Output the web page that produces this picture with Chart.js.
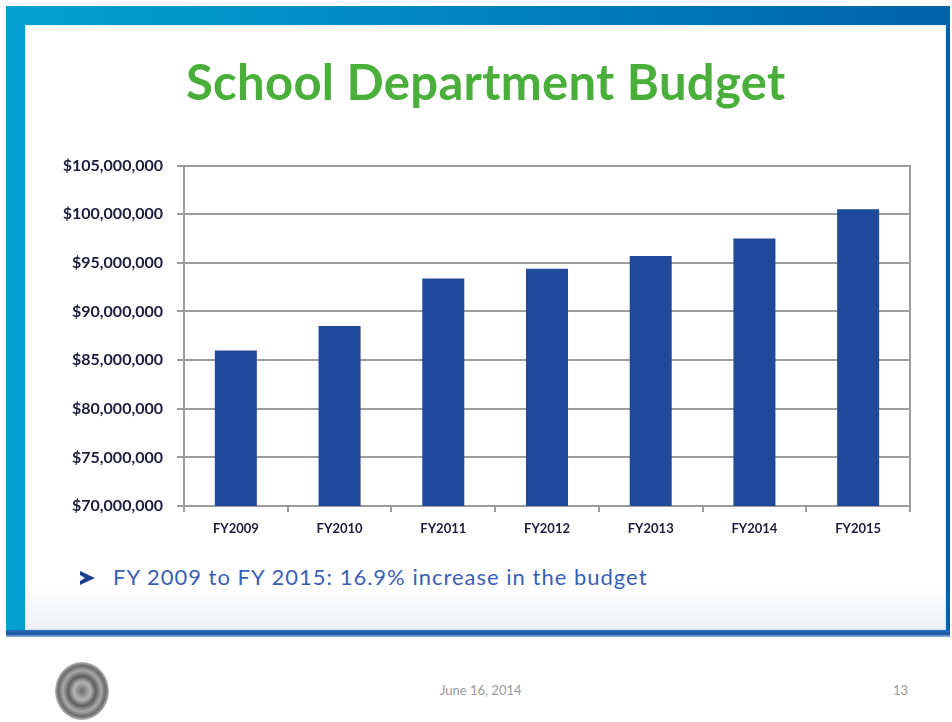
<!DOCTYPE html>
<html>
<head>
<meta charset="utf-8">
<title>School Department Budget</title>
<script src="https://cdn.jsdelivr.net/npm/chart.js@4.4.1/dist/chart.umd.min.js"></script>
<style>
  html, body { margin: 0; padding: 0; background: #fff; }
  body { width: 952px; height: 722px; position: relative; overflow: hidden; font-family: Lato, "Open Sans", sans-serif; }
  .frame {
    position: absolute; left: 6px; top: 6px; width: 944px; height: 631px;
    background: linear-gradient(90deg, #02a1d1 0%, #0187c2 45%, #0063a9 100%);
  }
  .frame-bottom {
    position: absolute; left: 6px; top: 630px; width: 944px; height: 7px;
    background: linear-gradient(180deg, #2a6cb8 0%, #1b56a3 60%, #9ec3e6 100%);
  }
  .inner {
    position: absolute; left: 25px; top: 25px; width: 921px; height: 605px;
    background: linear-gradient(180deg, #ffffff 0%, #ffffff 93%, #eceff4 100%);
    box-shadow: inset 0 0 2px rgba(120,170,210,0.6);
  }
  .title {
    position: absolute; left: 186px; top: 52px; white-space: nowrap;
    font-family: Lato, sans-serif; font-weight: bold; font-size: 49px; color: #4aae3a;
    letter-spacing: 0.3px;
  }
  #chartBox { position: absolute; left: 40px; top: 142px; width: 885px; height: 403px; }
  .bullet {
    position: absolute; left: 113px; top: 563px; font-size: 22px; color: #3a5fb5;
    font-family: Lato, sans-serif; white-space: nowrap; letter-spacing: 1px;
  }
  /* flecha de viñeta */
  .arrow {
    position: absolute; left: 80px; top: 571px; width: 0; height: 0;
    border-top: 7px solid transparent; border-bottom: 7px solid transparent;
    border-left: 15px solid #1b3f8f;
  }
  .arrow-notch {
    position: absolute; left: 80px; top: 575px; width: 0; height: 0;
    border-top: 3px solid transparent; border-bottom: 3px solid transparent;
    border-left: 5px solid #ffffff;
  }
  .footer { position: absolute; top: 682px; font-size: 13px; color: #9a9a9a; font-family: Lato, sans-serif; }
  .seal {
    position: absolute; left: 55px; top: 662px; width: 54px; height: 58px; border-radius: 50%;
    background: radial-gradient(ellipse at center, #6c6c6c 0%, #b4b4b4 22%, #5e5e5e 36%, #a8a8a8 50%, #6a6a6a 62%, #c4c4c4 72%, #4e4e4e 82%, #8a8a8a 92%, rgba(255,255,255,0) 100%);
  }
</style>
</head>
<body>
<div class="frame"></div>
<div class="inner"></div>
<div class="frame-bottom"></div>
<div class="title">School Department Budget</div>
<div id="chartBox"><canvas id="budgetChart" width="885" height="403"></canvas></div>
<div class="arrow"></div>
<div class="arrow-notch"></div>
<div class="bullet">FY 2009 to FY 2015: 16.9% increase in the budget</div>
<div class="seal"></div>
<div class="footer" style="left:440px;">June 16, 2014</div>
<div class="footer" style="left:893px;">13</div>

<script>
// Presupuesto del departamento escolar por año fiscal
const fiscalYears = ['FY2009', 'FY2010', 'FY2011', 'FY2012', 'FY2013', 'FY2014', 'FY2015'];
const budget = [86000000, 88500000, 93400000, 94400000, 95700000, 97500000, 100500000];
const axisMin = 70000000;
const axisMax = 105000000;
const axisStep = 5000000;

const gridColor = '#9c9c9c';
const labelColor = '#1c1c3c';

const ctx = document.getElementById('budgetChart').getContext('2d');
new Chart(ctx, {
    type: 'bar',
    data: {
        labels: fiscalYears,
        datasets: [{
            data: budget,
            backgroundColor: '#1f4a9c',
            borderWidth: 0,
            categoryPercentage: 1,
            barPercentage: 0.405
        }]
    },
    options: {
        responsive: false,
        animation: false,
        layout: { padding: { top: 7, right: 15, left: 0, bottom: 0 } },
        plugins: {
            legend: { display: false },
            tooltip: { enabled: false }
        },
        scales: {
            x: {
                offset: true,
                grid: {
                    offset: true,
                    drawOnChartArea: false,
                    drawTicks: true,
                    tickLength: 6,
                    color: gridColor,
                    lineWidth: 2
                },
                border: { color: gridColor, width: 2 },
                ticks: {
                    color: labelColor,
                    padding: 9,
                    font: { family: 'Lato', weight: 'bold', size: 13 }
                },
                afterFit: function(scale) { scale.height = 39; }
            },
            y: {
                min: axisMin,
                max: axisMax,
                grid: {
                    color: gridColor,
                    lineWidth: 2,
                    tickLength: 7
                },
                border: { color: gridColor, width: 2 },
                ticks: {
                    stepSize: axisStep,
                    color: labelColor,
                    padding: 14,
                    font: { family: 'Lato', weight: 'bold', size: 16 },
                    callback: function(value) {
                        return '$' + value.toLocaleString('en-US');
                    }
                },
                afterFit: function(scale) { scale.width = 144; }
            },
            yRight: {
                position: 'right',
                min: axisMin,
                max: axisMax,
                grid: { drawOnChartArea: false, drawTicks: false },
                border: { color: gridColor, width: 2 },
                ticks: { display: false },
                afterFit: function(scale) { scale.width = 0; }
            }
        }
    }
});
</script>
</body>
</html>
